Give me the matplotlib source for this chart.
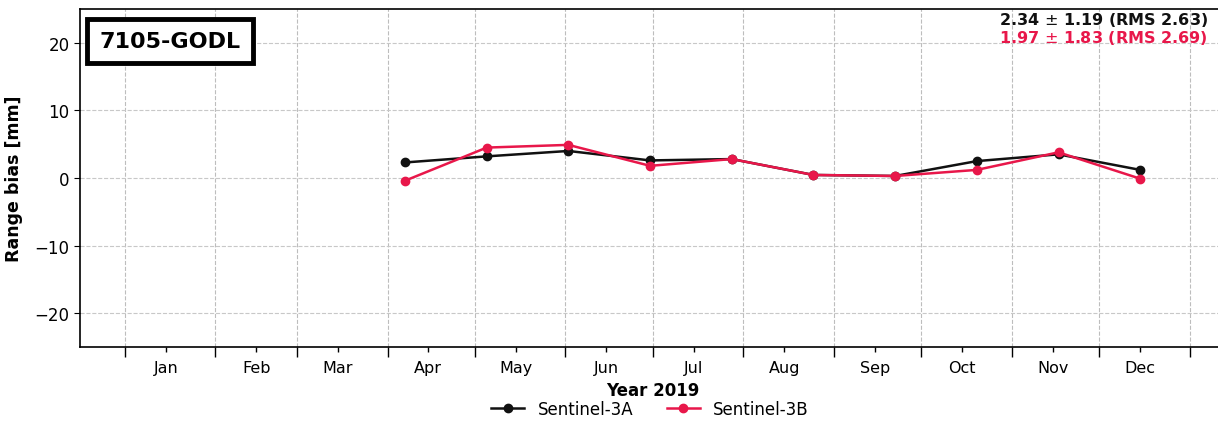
import matplotlib
matplotlib.use("Agg")
import matplotlib.pyplot as plt
import matplotlib.dates as mdates
import datetime as dt

dates = ["2019-04-07", "2019-05-05", "2019-06-02", "2019-06-30", "2019-07-28",
         "2019-08-25", "2019-09-22", "2019-10-20", "2019-11-17", "2019-12-15"]
s3a = [2.3, 3.2, 4.0, 2.6, 2.8, 0.45, 0.3, 2.5, 3.5, 1.2]
s3b = [-0.4, 4.5, 4.9, 1.8, 2.8, 0.45, 0.3, 1.2, 3.8, -0.1]
station = "7105-GODL"
stats_a = "2.34 $\\pm$ 1.19 (RMS 2.63)"
stats_b = "1.97 $\\pm$ 1.83 (RMS 2.69)"
labels = ["Sentinel-3A", "Sentinel-3B"]
color_a = "#111111"
color_b = "#e8174a"

x = [dt.datetime.strptime(d, "%Y-%m-%d") for d in dates]

W, H = 1218, 431
fig = plt.figure(figsize=(W / 100, H / 100), dpi=100)
ax = fig.add_axes([80 / W, (H - 348) / H, (1226 - 80) / W, (348 - 10) / H])

ax.plot(x, s3a, "-o", color=color_a, lw=1.8, ms=6, label=labels[0], zorder=3)
ax.plot(x, s3b, "-o", color=color_b, lw=1.8, ms=6, label=labels[1], zorder=4)

ax.set_ylim(-25, 25)
ax.set_yticks([-20, -10, 0, 10, 20])
ax.set_xlim(dt.datetime(2018, 12, 16, 14), dt.datetime(2020, 1, 13, 10))

ax.xaxis.set_major_locator(mdates.MonthLocator())
ax.xaxis.set_major_formatter(plt.NullFormatter())
ax.xaxis.set_minor_locator(mdates.MonthLocator(bymonthday=15))
ax.xaxis.set_minor_formatter(mdates.DateFormatter("%b"))
ax.tick_params(axis="x", which="major", length=7, width=1)
ax.tick_params(axis="x", which="minor", length=3.5, width=1, labelsize=11.5, pad=6)
ax.tick_params(axis="y", labelsize=12, length=4)

ax.grid(True, which="major", axis="x", ls="--", color="#bdbdbd", lw=0.8)
ax.grid(True, which="major", axis="y", ls="--", color="#c8c8c8", lw=0.8)

for s in ["top", "bottom", "left", "right"]:
    ax.spines[s].set_linewidth(1.2)

ax.set_xlabel("Year 2019", fontsize=12, fontweight="bold", labelpad=4)
ax.set_ylabel("Range bias [mm]", fontsize=12.5, fontweight="bold", labelpad=8)

fig.text(170 / W, 1 - 42 / H, station, ha="center", va="center", fontsize=16,
         fontweight="bold",
         bbox=dict(boxstyle="square,pad=0.55", fc="white", ec="black", lw=3.5))

fig.text(1208 / W, 1 - 20 / H, stats_a, ha="right", va="center", fontsize=11.5,
         fontweight="bold", color=color_a)
fig.text(1208 / W, 1 - 38 / H, stats_b, ha="right", va="center", fontsize=11.5,
         fontweight="bold", color=color_b)

fig.legend(loc="center", bbox_to_anchor=(650 / W, 1 - 410 / H), ncol=2,
           frameon=False, fontsize=12, handlelength=2, columnspacing=2.0)

fig.savefig("out.png", dpi=100)
